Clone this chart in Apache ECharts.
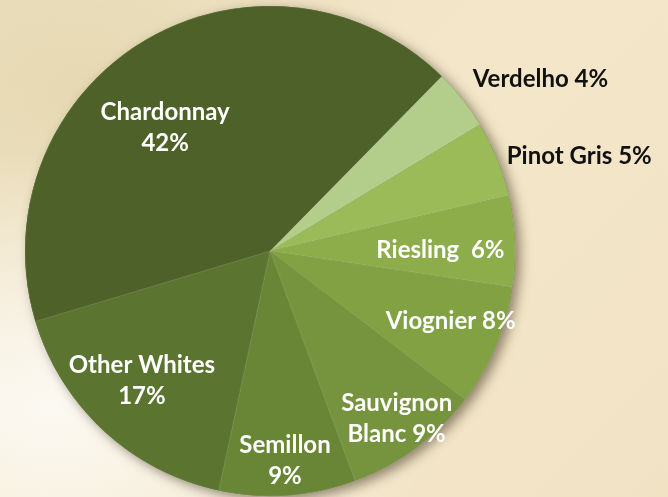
<!DOCTYPE html>
<html>
<head>
<meta charset="utf-8">
<script src="https://cdn.jsdelivr.net/npm/echarts@6/dist/echarts.min.js"></script>
<style>
    html, body { margin: 0; padding: 0; }
    #chart {
        width: 668px;
        height: 497px;
        background:
            radial-gradient(ellipse at 8% 82%, rgba(252, 250, 245, 0.95) 0%, rgba(252, 250, 245, 0) 45%),
            radial-gradient(ellipse at 12% 18%, rgba(228, 215, 175, 0.85) 0%, rgba(228, 215, 175, 0) 40%),
            linear-gradient(135deg, #ede1c3 0%, #f4e7c9 45%, #f1e2c4 100%);
    }
</style>
</head>
<body>
<div id="chart"></div>
<script>
// wine varieties, clockwise from the top right
var varieties = ['Verdelho', 'Pinot Gris', 'Riesling', 'Viognier', 'Sauvignon Blanc', 'Semillon', 'Other Whites', 'Chardonnay'];
var shares = [4, 5, 6, 8, 9, 9, 17, 42];
var labelTexts = ['Verdelho 4%', 'Pinot Gris 5%', 'Riesling  6%', 'Viognier 8%', 'Sauvignon\nBlanc 9%', 'Semillon\n9%', 'Other Whites\n17%', 'Chardonnay\n42%'];

var colors = ['#b3cd8a', '#9bbb59', '#8dad4b', '#82a143', '#76933d', '#688636', '#5b7430', '#4e6128'];
var labelColors = ['#111', '#111', '#fff', '#fff', '#fff', '#fff', '#fff', '#fff'];
// nudge from the default inside position
var labelShift = [[172, -94], [193, -48], [45, 4], [65, 21], [52, 67], [6, 85], [-43, 38], [-40, -16]];

(function () {
    var chart = echarts.init(document.getElementById('chart'));

    var total = shares.reduce(function (a, b) { return a + b; }, 0);

    var data = varieties.map(function (name, i) {
        return {
            name: name,
            value: shares[i],
            itemStyle: { color: colors[i] },
            label: { color: labelColors[i], formatter: labelTexts[i] }
        };
    });

    var option = {
        backgroundColor: 'transparent',
        series: [
            {
                // shadow disc under the pie
                type: 'pie',
                silent: true,
                center: [270, 251],
                radius: [0, 245],
                label: { show: false },
                itemStyle: {
                    color: '#4e6128',
                    shadowBlur: 12,
                    shadowOffsetX: 5,
                    shadowOffsetY: 4,
                    shadowColor: 'rgba(60, 50, 30, 0.55)'
                },
                data: [total]
            },
            {
                name: 'Whites',
                type: 'pie',
                center: [270, 251],
                radius: [0, 245],
                startAngle: 45.5,
                clockwise: true,
                avoidLabelOverlap: false,
                itemStyle: {
                    borderColor: 'rgba(255, 255, 255, 0.18)',
                    borderWidth: 0.6
                },
                label: {
                    show: true,
                    position: 'inside',
                    fontFamily: 'Lato',
                    fontWeight: 'bold',
                    fontSize: 24,
                    lineHeight: 31,
                    align: 'center'
                },
                labelLine: { show: false },
                labelLayout: function (params) {
                    var s = labelShift[params.dataIndex];
                    return { dx: s[0], dy: s[1] };
                },
                emphasis: { disabled: true },
                data: data
            }
        ]
    };

    chart.setOption(option);
})();
</script>
</body>
</html>
